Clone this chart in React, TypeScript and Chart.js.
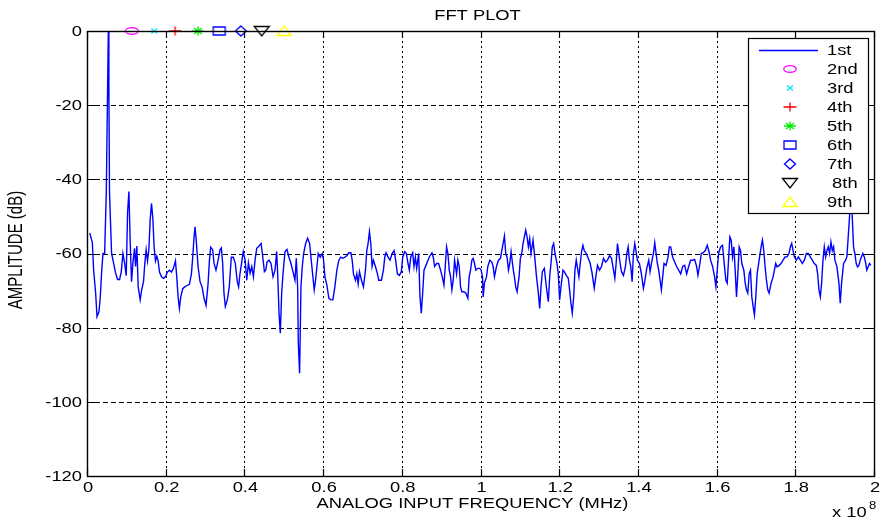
import React, { useEffect, useRef } from "react";
import { Chart, registerables } from "chart.js";

Chart.register(...registerables);

// Frequency axis values (units of 1e8 Hz) and amplitude (dB) of the FFT trace
const freq = [
  0.007, 0.0135, 0.0169, 0.022, 0.0254, 0.0304, 0.0338, 0.0372, 0.0406, 0.0448,
  0.049, 0.0542, 0.0556, 0.0572, 0.0625, 0.0676, 0.0727, 0.0777, 0.0828, 0.087,
  0.0913, 0.0955, 0.0997, 0.1031, 0.1065, 0.1098, 0.1132, 0.1166, 0.1208, 0.1234,
  0.1267, 0.1301, 0.1352, 0.1386, 0.1436, 0.147, 0.1504, 0.1538, 0.1572, 0.1605,
  0.1639, 0.1673, 0.1707, 0.1741, 0.1774, 0.1808, 0.1842, 0.1893, 0.1943, 0.1994,
  0.2045, 0.2095, 0.2146, 0.2197, 0.2248, 0.2281, 0.2315, 0.2349, 0.2383, 0.2433,
  0.2484, 0.2535, 0.2602, 0.2653, 0.2687, 0.2721, 0.2746, 0.278, 0.2822, 0.2873,
  0.2924, 0.2974, 0.3025, 0.3076, 0.311, 0.3143, 0.3194, 0.3228, 0.3278, 0.3329,
  0.338, 0.3414, 0.3447, 0.3481, 0.3515, 0.3566, 0.3616, 0.3667, 0.3718, 0.3768,
  0.3819, 0.3853, 0.3887, 0.3937, 0.3971,
  0.4018, 0.406, 0.4102, 0.4145, 0.4187, 0.4229, 0.4271, 0.4313, 0.4356, 0.4423,
  0.4457, 0.4508, 0.4542, 0.4575, 0.4626, 0.4677, 0.4728, 0.4778, 0.482, 0.4846,
  0.488, 0.4913, 0.4947, 0.4981, 0.5032, 0.5082, 0.5133, 0.5184, 0.5234, 0.5285,
  0.5319, 0.5353, 0.537, 0.5403, 0.5437, 0.5471, 0.5505, 0.5556, 0.5606, 0.5657,
  0.5691, 0.5741, 0.5775, 0.5809, 0.5843, 0.5877, 0.5927, 0.5978, 0.6012, 0.6046,
  0.6096, 0.6147, 0.6198, 0.6248, 0.6299, 0.635, 0.64, 0.6451, 0.6502, 0.6553,
  0.6603, 0.6654, 0.6705, 0.6739, 0.6772, 0.6823, 0.6857, 0.6891, 0.6925, 0.6975,
  0.7026, 0.7077, 0.711, 0.7144, 0.7178, 0.7212, 0.7245, 0.7279, 0.733, 0.7381,
  0.7414, 0.7482, 0.7533, 0.7567, 0.76, 0.7651, 0.7702, 0.7753, 0.7803, 0.7837,
  0.7888, 0.7938, 0.7989, 0.8023,
  0.8074, 0.8116, 0.8158, 0.8192, 0.8226, 0.8276, 0.831, 0.8344, 0.8378, 0.8428,
  0.8462, 0.8496, 0.853, 0.8564, 0.8614, 0.8665, 0.8716, 0.8766, 0.88, 0.8834,
  0.8885, 0.8935, 0.8986, 0.9037, 0.9071, 0.9104, 0.9138, 0.9172, 0.9206, 0.924,
  0.9273, 0.9307, 0.9341, 0.9392, 0.9425, 0.9459, 0.9493, 0.9527, 0.9578, 0.9628,
  0.9679, 0.9713, 0.9747, 0.978, 0.9814, 0.9848, 0.9882, 0.9932, 0.9983, 1.0017,
  1.0051, 1.0068, 1.0101, 1.0152, 1.0186, 1.0237, 1.0287, 1.0321, 1.0355, 1.0406,
  1.0456, 1.0507, 1.0541, 1.0575, 1.0608, 1.0642, 1.0676, 1.071, 1.0744, 1.0777,
  1.0828, 1.0862, 1.0896, 1.093, 1.098, 1.1014, 1.1048, 1.1082, 1.1115, 1.1149,
  1.1183, 1.1217, 1.125, 1.1284, 1.1335, 1.1386, 1.142, 1.147, 1.1504, 1.1538,
  1.1572, 1.1622, 1.1673, 1.1724, 1.1758, 1.1791, 1.1825, 1.1859, 1.1893, 1.1943,
  1.1977, 1.2011, 1.2045, 1.2096,
  1.2129, 1.218, 1.2231, 1.2264, 1.2298, 1.2332, 1.2366, 1.24, 1.2433, 1.2467,
  1.2501, 1.2535, 1.2569, 1.2602, 1.2636, 1.2687, 1.2738, 1.2788, 1.2839, 1.289,
  1.294, 1.2974, 1.3025, 1.3076, 1.3126, 1.3177, 1.3228, 1.3278, 1.3329, 1.338,
  1.3414, 1.3447, 1.3481, 1.3515, 1.3549, 1.3583, 1.3633, 1.3684, 1.3718, 1.3752,
  1.3785, 1.3819, 1.3853, 1.3887, 1.392, 1.3954, 1.3988, 1.4039, 1.4089, 1.414,
  1.4174, 1.4225, 1.4276, 1.4309, 1.4343, 1.4394, 1.4428, 1.4462, 1.4495, 1.4529,
  1.4563, 1.4597, 1.463, 1.4664, 1.4715, 1.4766, 1.4799, 1.4833, 1.4884, 1.4935,
  1.4985, 1.5036, 1.5087, 1.5137, 1.5188, 1.5239, 1.529, 1.534, 1.5391, 1.5442,
  1.5492, 1.5526, 1.5577, 1.5611, 1.5661, 1.5712, 1.5763, 1.5813, 1.5847, 1.5898,
  1.5949, 1.5982, 1.6016, 1.605, 1.6101, 1.6151,
  1.6185, 1.6236, 1.627, 1.6303, 1.6337, 1.6371, 1.6405, 1.6439, 1.6472, 1.6506,
  1.654, 1.6574, 1.6608, 1.6641, 1.6692, 1.6726, 1.676, 1.6793, 1.6827, 1.6861,
  1.6895, 1.6929, 1.6962, 1.6996, 1.703, 1.7081, 1.7131, 1.7165, 1.7199, 1.7233,
  1.7267, 1.73, 1.7334, 1.7385, 1.7436, 1.7469, 1.7503, 1.7537, 1.7588, 1.7638,
  1.7689, 1.774, 1.7791, 1.7841, 1.7875, 1.7909, 1.7943, 1.7976, 1.8027, 1.8078,
  1.8128, 1.8179, 1.823, 1.8281, 1.8331, 1.8382, 1.8433, 1.8483, 1.8534, 1.8568,
  1.8602, 1.8636, 1.8669, 1.8703, 1.8737, 1.8771, 1.8804, 1.8838, 1.8872, 1.8906,
  1.894, 1.8973, 1.9007, 1.9058, 1.9109, 1.9142, 1.9176, 1.9227, 1.9278, 1.9311,
  1.9345, 1.9379, 1.9413, 1.9447, 1.948, 1.9514, 1.9548, 1.9582, 1.9616, 1.9649,
  1.9683, 1.9717, 1.9751, 1.9785, 1.9818, 1.9852, 1.9886, 1.992,
];

const amp = [
  -54.5, -57, -64.5, -70.7, -77, -75.7, -71.7, -65, -60, -60,
  -43.7, 0, -14.5, -43.7, -60, -62.6, -65.3, -67, -67, -65,
  -60, -62.5, -66, -49, -43.3, -57, -67.6, -62.6, -58.6, -63.5,
  -58, -69, -72.5, -70, -67.6, -62.6, -59, -62, -59, -51,
  -46.5, -50.5, -58.5, -62, -60.7, -62, -65, -66.3, -66.7, -66.3,
  -65, -64.5, -65, -64, -62, -66.3, -71.7, -74.8, -71.7, -69.5,
  -69, -68.7, -68.3, -65.5, -61, -55.5, -52.8, -57, -63.5, -67.6,
  -69, -72, -74, -68.3, -62, -58.3, -59, -62.6, -64.5, -62,
  -59, -58.5, -62.6, -70.7, -74.3, -72.5, -69, -61, -61, -62.6,
  -67.6, -69, -65.5, -62, -59.5,
  -61.8, -67.2, -62.5, -65.3, -63.5, -66.3, -61.8, -58.6, -58.2, -57.3,
  -60, -64.9, -64.5, -62.3, -61.8, -62.7, -66.3, -64.5, -59.5, -65.5,
  -76.1, -81.5, -70.7, -65.5, -59.5, -58.9, -61, -62.7, -64.9, -67.2,
  -61.3, -69, -84.2, -92.3, -69, -63.5, -60, -57.3, -55.9, -57.3,
  -61, -66.3, -69.8, -67.2, -63.5, -60, -61, -60, -61.8, -66.3,
  -68.5, -72.1, -72.5, -72.5, -69, -64.5, -61.8, -61, -61.3, -61,
  -60.6, -59.8, -59.8, -61.8, -65.5, -67.2, -65.5, -68.2, -64.9, -67.2,
  -69, -64.5, -59.2, -57.3, -54.1, -57.3, -63.5, -61.8, -63.5, -65.5,
  -67.2, -67.2, -64.5, -61, -59.8, -61, -61.8, -60, -59.2, -61.3,
  -65.5, -65.9, -64.9, -61,
  -59.5, -60, -62.7, -64.5, -61, -59.8, -63.5, -61, -64, -60,
  -71.7, -76.1, -70.7, -64.5, -63.2, -61.8, -60.6, -59.8, -61, -63.5,
  -62.7, -62.7, -64.5, -66.7, -68.5, -63.5, -58.2, -60, -64.5, -66.3,
  -69.8, -67.2, -61.8, -65.5, -61.8, -63.5, -69, -70.3, -70.3, -70.7,
  -72.1, -66.3, -64.5, -61.8, -61.3, -62.7, -64.5, -64, -64, -64.5,
  -66.3, -71.7, -67.9, -66.3, -63.5, -61.8, -62.3, -63.5, -66.3, -63.5,
  -61.8, -61.3, -59.2, -57.3, -55.3, -60, -61, -64.5, -62.7, -59.5,
  -64, -66.3, -69, -70.3, -66.3, -61.3, -60, -57.3, -55.5, -53.7,
  -55.5, -58.2, -56, -60, -56.4, -61.8, -65.9, -70.7, -74.8, -69,
  -64.9, -64, -69, -73, -66.3, -62.7, -58.2, -57.3, -60, -62.7,
  -65.5, -72.5, -69, -64.5,
  -64.9, -65.9, -66.7, -69.8, -73.4, -76.1, -72.1, -64.5, -61.8, -64,
  -66.3, -62.7, -59.5, -57.8, -59.2, -60, -61.3, -62.7, -65.5, -69.4,
  -65.5, -63.2, -64.5, -63.5, -61.3, -62.3, -61.8, -60.6, -61.3, -64.5,
  -66.7, -62.7, -57.3, -60, -62.7, -64.9, -65.9, -63.5, -60, -58.2,
  -61.8, -63.5, -67.6, -60, -57.3, -59.5, -61.8, -62.7, -65.5, -69.4,
  -67.6, -64, -61.8, -64.9, -62.7, -60, -57.1, -60, -62.7, -64.5,
  -67.2, -69.8, -66.3, -62.7, -63.2, -61, -58.2, -58.2, -61, -62.3,
  -63.5, -64.5, -65.5, -63.5, -63.2, -65.5, -63.5, -61.8, -61.8, -61.6,
  -63.5, -65.9, -62.7, -60, -59.8, -59.2, -57.8, -59.8, -61.8, -63.5,
  -66.3, -69, -64.5, -60, -58.2, -57.8,
  -61.8, -67.2, -68, -61.8, -55.5, -56.4, -60.9, -58.2, -64.5, -71.7,
  -65.5, -58.2, -59.2, -62.7, -64.5, -68, -69.8, -70.7, -65.5, -64.5,
  -71.7, -74.3, -76.6, -71.7, -65.5, -61.8, -58.2, -56.4, -59.2, -63.6,
  -67.2, -69.8, -70.7, -68, -66.3, -64.5, -62.7, -63.6, -63.2, -62.7,
  -61.8, -60.9, -60.9, -60, -58.2, -57.3, -59.2, -60.9, -61.8, -60.9,
  -61.8, -62.7, -61.8, -60, -60, -60.9, -61.8, -62.7, -63.2, -65.5,
  -69.8, -71.7, -68, -61.8, -58.2, -60.9, -59.2, -58.2, -60, -56.9,
  -59.2, -58.2, -61.8, -63.6, -68, -73.4, -68, -62.7, -61.8, -60.9,
  -55.5, -50, -42, -50, -58.2, -60, -62.7, -63.6, -63.2, -61.8,
  -60.9, -60, -60.9, -62.3, -64.5, -63.6, -62.7, -63.2,
];

// Harmonic markers (2nd..9th)
const harmonicLabels = ["2nd", "3rd", "4th", "5th", "6th", "7th", " 8th", "9th"];
const harmonicFreq = [0.114, 0.171, 0.224, 0.282, 0.336, 0.391, 0.444, 0.501];
const harmonicAmp = [0, 0, 0, 0, 0, 0, 0, 0];
const harmonicKinds = ["circle", "x", "plus", "star", "square", "diamond", "tridown", "triup"];
const harmonicColors = ["#ff00ff", "#00e5ff", "#ff0000", "#00ee00", "#0000ff", "#0000ff", "#000000", "#ffff00"];

const xTicks = [0, 0.2, 0.4, 0.6, 0.8, 1, 1.2, 1.4, 1.6, 1.8, 2];
const xTickLabels = ["0", "0.2", "0.4", "0.6", "0.8", "1", "1.2", "1.4", "1.6", "1.8", "2"];
const yTicks = [0, -20, -40, -60, -80, -100, -120];
const yTickLabels = ["0", "-20", "-40", "-60", "-80", "-100", "-120"];

const FONT = '"Liberation Sans", Arial, sans-serif';
const SX = 1.31;

function makeMarker(kind: string, color: string): HTMLCanvasElement {
  const c = document.createElement("canvas");
  const w = 18;
  const h = 14;
  c.width = w;
  c.height = h;
  const g = c.getContext("2d")!;
  g.strokeStyle = color;
  g.lineWidth = 1.3;
  const cx = w / 2;
  const cy = h / 2;
  g.beginPath();
  switch (kind) {
    case "circle":
      g.ellipse(cx, cy, 6.2, 3.4, 0, 0, Math.PI * 2);
      break;
    case "x":
      g.moveTo(cx - 3, cy - 2.5); g.lineTo(cx + 3, cy + 2.5);
      g.moveTo(cx + 3, cy - 2.5); g.lineTo(cx - 3, cy + 2.5);
      break;
    case "plus":
      g.moveTo(cx - 6.5, cy); g.lineTo(cx + 6.5, cy);
      g.moveTo(cx, cy - 4.5); g.lineTo(cx, cy + 4.5);
      break;
    case "star":
      g.moveTo(cx - 6, cy); g.lineTo(cx + 6, cy);
      g.moveTo(cx, cy - 4.5); g.lineTo(cx, cy + 4.5);
      g.moveTo(cx - 4, cy - 3); g.lineTo(cx + 4, cy + 3);
      g.moveTo(cx + 4, cy - 3); g.lineTo(cx - 4, cy + 3);
      break;
    case "square":
      g.rect(cx - 6, cy - 4, 12, 8);
      break;
    case "diamond":
      g.moveTo(cx, cy - 5); g.lineTo(cx + 5.5, cy); g.lineTo(cx, cy + 5); g.lineTo(cx - 5.5, cy); g.closePath();
      break;
    case "tridown":
      g.moveTo(cx - 7.5, cy - 4.5); g.lineTo(cx + 7.5, cy - 4.5); g.lineTo(cx, cy + 5); g.closePath();
      break;
    case "triup":
      g.moveTo(cx, cy - 5); g.lineTo(cx + 7, cy + 4.5); g.lineTo(cx - 7, cy + 4.5); g.closePath();
      break;
  }
  g.stroke();
  return c;
}

function stext(ctx: CanvasRenderingContext2D, text: string, x: number, y: number, align: CanvasTextAlign, size = 14) {
  ctx.save();
  ctx.translate(x, y);
  ctx.scale(SX, 1);
  ctx.font = `${size}px ${FONT}`;
  ctx.textAlign = align;
  ctx.textBaseline = "middle";
  ctx.fillStyle = "#000";
  ctx.fillText(text, 0, 0);
  ctx.restore();
}

export default function App() {
  const ref = useRef<HTMLCanvasElement | null>(null);

  useEffect(() => {
    if (!ref.current) return;
    const markers = harmonicKinds.map((k, i) => makeMarker(k, harmonicColors[i]));

    const deco = {
      id: "deco",
      beforeDatasetsDraw(chart: any) {
        const { ctx, chartArea: a, scales } = chart;
        const xs = scales.x;
        const ys = scales.y;
        ctx.save();
        ctx.strokeStyle = "#000";
        ctx.lineWidth = 1;
        ctx.setLineDash([2, 3]);
        for (const t of xTicks) {
          if (t <= 0 || t >= 2) continue;
          const px = Math.round(xs.getPixelForValue(t)) + 0.5;
          ctx.beginPath();
          ctx.moveTo(px, a.top);
          ctx.lineTo(px, a.bottom);
          ctx.stroke();
        }
        ctx.setLineDash([5, 3]);
        for (const t of yTicks) {
          if (t >= 0 || t <= -120) continue;
          const py = Math.round(ys.getPixelForValue(t)) + 0.5;
          ctx.beginPath();
          ctx.moveTo(a.left, py);
          ctx.lineTo(a.right, py);
          ctx.stroke();
        }
        ctx.restore();
      },
      afterDatasetsDraw(chart: any) {
        const { ctx, chartArea: a, scales } = chart;
        const xs = scales.x;
        const ys = scales.y;
        ctx.save();
        ctx.setLineDash([]);
        ctx.strokeStyle = "#000";
        ctx.lineWidth = 1.4;
        ctx.strokeRect(a.left + 0.5, a.top + 0.5, a.right - a.left, a.bottom - a.top);
        ctx.lineWidth = 1.2;
        for (const t of xTicks) {
          const px = Math.round(xs.getPixelForValue(t)) + 0.5;
          ctx.beginPath();
          ctx.moveTo(px, a.bottom); ctx.lineTo(px, a.bottom - 7);
          ctx.moveTo(px, a.top); ctx.lineTo(px, a.top + 7);
          ctx.stroke();
        }
        for (const t of yTicks) {
          const py = Math.round(ys.getPixelForValue(t)) + 0.5;
          ctx.beginPath();
          ctx.moveTo(a.left, py); ctx.lineTo(a.left + 8, py);
          ctx.moveTo(a.right, py); ctx.lineTo(a.right - 8, py);
          ctx.stroke();
        }
        // tick labels
        xTicks.forEach((t, i) => stext(ctx, xTickLabels[i], xs.getPixelForValue(t) + 1, 488, "center"));
        yTicks.forEach((t, i) => stext(ctx, yTickLabels[i], a.left - 5, ys.getPixelForValue(t) + 1, "right"));
        // titles
        stext(ctx, "FFT PLOT", (a.left + a.right) / 2 - 3, 16, "center");
        stext(ctx, "ANALOG INPUT FREQUENCY (MHz)", (a.left + a.right) / 2 - 8, 504, "center");
        stext(ctx, "x 10", 832, 513, "left");
        stext(ctx, "8", 869, 506, "left", 10);
        // y label rotated
        ctx.save();
        ctx.translate(17, 250);
        ctx.scale(SX, 1);
        ctx.rotate(-Math.PI / 2);
        ctx.font = `15px ${FONT}`;
        ctx.textAlign = "center";
        ctx.textBaseline = "middle";
        ctx.fillStyle = "#000";
        ctx.fillText("AMPLITUDE (dB)", 0, 0);
        ctx.restore();
        // legend
        const lx = 748, ly = 38, lw = 120, lh = 175;
        ctx.fillStyle = "#fff";
        ctx.fillRect(lx, ly, lw, lh);
        ctx.lineWidth = 1.2;
        ctx.strokeStyle = "#000";
        ctx.strokeRect(lx + 0.5, ly + 0.5, lw, lh);
        const rowY = (i: number) => 50 + i * 18.96;
        ctx.strokeStyle = "#0000ff";
        ctx.lineWidth = 1.5;
        ctx.beginPath();
        ctx.moveTo(759, rowY(0) + 0.5);
        ctx.lineTo(818, rowY(0) + 0.5);
        ctx.stroke();
        stext(ctx, "1st", 827, rowY(0) + 1, "left");
        markers.forEach((m, i) => {
          const yy = rowY(i + 1);
          ctx.drawImage(m, Math.round(790 - m.width / 2), Math.round(yy - m.height / 2));
          stext(ctx, harmonicLabels[i], 827, yy + 1, "left");
        });
        ctx.restore();
      },
    };

    const datasets: any[] = [
      {
        label: "1st",
        data: freq.map((f, i) => ({ x: f, y: amp[i] })),
        showLine: true,
        borderColor: "#0000ff",
        borderWidth: 1.4,
        pointRadius: 0,
        tension: 0,
        fill: false,
      },
    ];
    harmonicLabels.forEach((lab, i) => {
      datasets.push({
        label: lab.trim(),
        data: [{ x: harmonicFreq[i], y: harmonicAmp[i] }],
        showLine: false,
        pointStyle: markers[i],
        pointRadius: 7,
        clip: false,
      });
    });

    const chart = new Chart(ref.current, {
      type: "scatter",
      data: { datasets },
      options: {
        responsive: false,
        animation: false,
        devicePixelRatio: 1,
        events: [],
        layout: { padding: { left: 87, top: 31, right: 6, bottom: 46 } },
        scales: {
          x: { type: "linear", min: 0, max: 2, display: false },
          y: { type: "linear", min: -120, max: 0, display: false },
        },
        plugins: {
          legend: { display: false },
          tooltip: { enabled: false },
          title: { display: false },
        },
      },
      plugins: [deco],
    } as any);

    return () => chart.destroy();
  }, []);

  return (
    <div style={{ position: "absolute", left: 0, top: 0, width: 882, height: 522, background: "#fff" }}>
      <canvas ref={ref} width={882} height={522} style={{ display: "block" }} />
    </div>
  );
}
